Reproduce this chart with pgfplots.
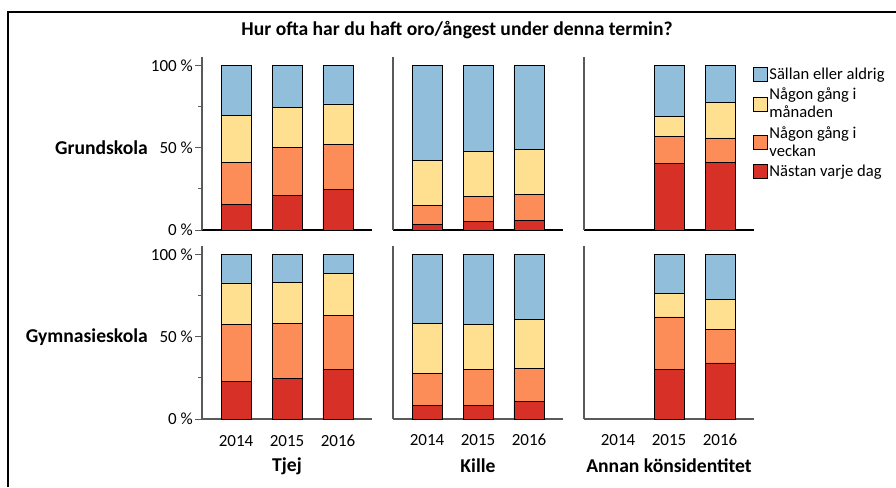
\documentclass[border=0pt]{standalone}
\usepackage{fontspec}
\setmainfont{Carlito}
\usepackage{pgfplots}
\pgfplotsset{compat=1.18}
\usepackage{pgfplotstable}

\definecolor{cBlue}{RGB}{145,191,219}
\definecolor{cYellow}{RGB}{254,224,144}
\definecolor{cOrange}{RGB}{252,141,89}
\definecolor{cRed}{RGB}{215,48,39}
\definecolor{axgray}{RGB}{90,90,90}

\newcommand{\fs}{\fontsize{17}{18}\selectfont}
\newcommand{\fl}{\fontsize{16.6}{18}\selectfont}
\newcommand{\fb}{\fontsize{19.6}{21}\selectfont\bfseries}

% Grundskola
\pgfplotstableread{
x r o y b
0 15.8 25.2 28.6 30.4
1 21.1 29.2 24.4 25.3
2 24.8 27.5 24.4 23.3
}\tabTG
\pgfplotstableread{
x r o y b
0 3.5 11.5 27.2 57.8
1 5.3 15.2 27.4 52.1
2 5.9 15.6 27.8 50.7
}\tabKG
\pgfplotstableread{
x r o y b
0 0 0 0 0
1 40.6 16.4 12.2 30.8
2 41.2 14.8 21.9 22.1
}\tabAG
% Gymnasieskola
\pgfplotstableread{
x r o y b
0 22.9 34.9 25.0 17.2
1 24.8 33.4 24.8 17.0
2 30.0 33.1 25.6 11.3
}\tabTY
\pgfplotstableread{
x r o y b
0 8.1 19.7 30.2 42.0
1 8.5 21.5 27.4 42.6
2 10.8 20.1 29.8 39.3
}\tabKY
\pgfplotstableread{
x r o y b
0 0 0 0 0
1 30.2 31.9 14.2 23.7
2 34.1 20.5 18.3 27.1
}\tabAY

\pgfplotsset{
  sqlegend/.style={legend image code/.code={\draw[##1,draw=black,line width=0.7pt] (0pt,-7pt) rectangle (14pt,7pt);}},
  panel/.style={
    scale only axis, width=170pt, height=172.5pt, anchor=south west,
    xmin=-0.667, xmax=2.667, ymin=0, ymax=105,
    ybar stacked, bar width=30pt,
    axis x line=bottom, axis y line=left,
    axis line style={-},
    every outer x axis line/.append style={-},
    every outer y axis line/.append style={-},
    x axis line style={black, line width=1.1pt},
    y axis line style={axgray, line width=1.1pt},
    xtick={0,1,2}, xticklabels={}, xtick style={draw=none},
    ytick=\empty,
    tick label style={font=\fs},
    clip=false,
  },
  leftpanel/.style={
    ytick={0,50,100}, yticklabels={0 \%,50 \%,100 \%},
    minor ytick={25,75},
    tick align=outside, major tick length=7pt, minor tick length=4pt,
    ytick style={axgray, line width=0.9pt},
    yticklabel style={anchor=east, inner sep=0pt, xshift=-2pt},
  },
  bottompanel/.style={
    xticklabels={2014,2015,2016},
    xticklabel style={anchor=center, inner sep=0pt, yshift=-19pt},
    x axis line style={axgray},
  },
  barR/.style={fill=cRed, draw=black, line width=0.7pt},
  barO/.style={fill=cOrange, draw=black, line width=0.7pt},
  barY/.style={fill=cYellow, draw=black, line width=0.7pt},
  barB/.style={fill=cBlue, draw=black, line width=0.7pt},
}

\newcommand{\panelplots}[1]{%
  \addplot[barR, sqlegend] table[x=x,y=r]{#1};
  \addplot[barO, sqlegend] table[x=x,y=o]{#1};
  \addplot[barY, sqlegend] table[x=x,y=y]{#1};
  \addplot[barB, sqlegend] table[x=x,y=b]{#1};
}

\begin{document}
\begin{tikzpicture}
\useasboundingbox (0pt,0pt) rectangle (896pt,487pt);
\draw[line width=2pt] (7.5pt,0pt) -- (7.5pt,475pt) -- (896pt,475pt);
\node[font=\fb] at (457pt,457pt) {Hur ofta har du haft oro/ångest under denna termin?};

% top row
\begin{axis}[panel, leftpanel, at={(202pt,257pt)}]
\panelplots{\tabTG}
\end{axis}
\begin{axis}[panel, at={(393pt,257pt)}]
\panelplots{\tabKG}
\end{axis}
\begin{axis}[panel, at={(584pt,257pt)},
  reverse legend, legend cell align=left,
  legend style={at={(1,1)}, anchor=north west, xshift=-1pt, yshift=-9pt,
    draw=none, fill=none, inner sep=0pt, row sep=4pt, column sep=0pt,
    font=\fl, cells={align=left}, nodes={inner sep=1.5pt}}]
\panelplots{\tabAG}
\addlegendentry{Nästan varje dag}
\addlegendentry{Någon gång i\\veckan}
\addlegendentry{Någon gång i\\månaden}
\addlegendentry{Sällan eller aldrig}
\end{axis}

% bottom row
\begin{axis}[panel, leftpanel, bottompanel, at={(202pt,68pt)},
  xticklabel style={yshift=4pt}]
\panelplots{\tabTY}
\end{axis}
\begin{axis}[panel, bottompanel, at={(393pt,68pt)}]
\panelplots{\tabKY}
\end{axis}
\begin{axis}[panel, bottompanel, at={(584pt,68pt)}]
\panelplots{\tabAY}
\end{axis}

\node[font=\fb, anchor=east, inner sep=0pt] at (148pt,339pt) {Grundskola};
\node[font=\fb, anchor=east, inner sep=0pt] at (148pt,150pt) {Gymnasieskola};
\node[font=\fb] at (287pt,21pt) {Tjej};
\node[font=\fb] at (478pt,21pt) {Kille};
\node[font=\fb] at (669pt,21pt) {Annan könsidentitet};
\end{tikzpicture}
\end{document}
